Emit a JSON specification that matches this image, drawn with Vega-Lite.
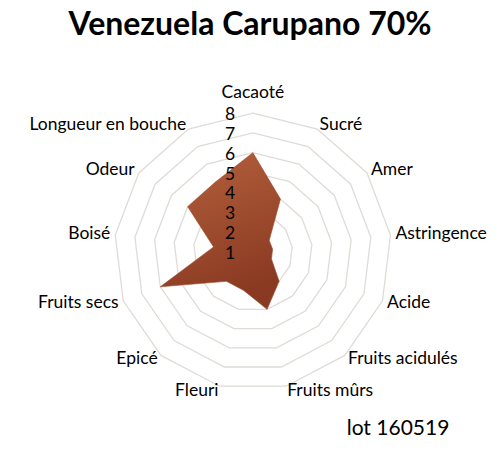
{
  "$schema": "https://vega.github.io/schema/vega-lite/v6.json",
  "width": 500,
  "height": 402,
  "autosize": "none",
  "padding": {"top": 50, "left": 0, "right": 0, "bottom": 0},
  "background": "white",
  "title": {
    "text": "Venezuela Carupano 70%",
    "font": "Lato",
    "fontSize": 32,
    "fontWeight": "bold",
    "color": "#000000",
    "anchor": "middle",
    "offset": 8
  },
  "config": {"view": {"stroke": null}, "text": {"font": "Lato", "fontSize": 17.5, "color": "#000000"}},
  "data": {
    "values": [
      {"critere": "Cacaoté", "note": 6},
      {"critere": "Sucré", "note": 4},
      {"critere": "Amer", "note": 2},
      {"critere": "Astringence", "note": 2},
      {"critere": "Acide", "note": 2},
      {"critere": "Fruits acidulés", "note": 3},
      {"critere": "Fruits mûrs", "note": 4},
      {"critere": "Fleuri", "note": 3},
      {"critere": "Epicé", "note": 3},
      {"critere": "Fruits secs", "note": 6},
      {"critere": "Boisé", "note": 3},
      {"critere": "Odeur", "note": 5},
      {"critere": "Longueur en bouche", "note": 5}
    ]
  },
  "transform": [
    {"window": [{"op": "row_number", "as": "rang"}]},
    {"calculate": "(datum.rang - 1) * 2 * PI / 13", "as": "angle"}
  ],
  "resolve": {"scale": {"x": "shared", "y": "shared"}},
  "layer": [
    {
      "transform": [
        {"calculate": "[2, 3, 4, 5, 6, 7, 8]", "as": "niveaux"},
        {"flatten": ["niveaux"], "as": ["niveau"]},
        {"calculate": "(datum.niveau - 1) * sin(datum.angle)", "as": "gx"},
        {"calculate": "(datum.niveau - 1) * cos(datum.angle)", "as": "gy"}
      ],
      "mark": {"type": "line", "interpolate": "linear-closed", "stroke": "#e0dbd6", "strokeWidth": 1.3},
      "encoding": {
        "x": {"field": "gx", "type": "quantitative", "scale": {"domain": [-12.77, 12.48], "nice": false, "zero": false}, "axis": null},
        "y": {"field": "gy", "type": "quantitative", "scale": {"domain": [-10.12, 10.19], "nice": false, "zero": false}, "axis": null},
        "detail": {"field": "niveau"},
        "order": {"field": "rang"}
      }
    },
    {
      "transform": [
        {"calculate": "(datum.note - 1) * sin(datum.angle)", "as": "px"},
        {"calculate": "(datum.note - 1) * cos(datum.angle)", "as": "py"}
      ],
      "mark": {
        "type": "line",
        "interpolate": "linear-closed",
        "filled": true,
        "fill": {
          "gradient": "linear", "x1": 0, "y1": 0, "x2": 0.3, "y2": 1,
          "stops": [{"offset": 0, "color": "#b5623d"}, {"offset": 1, "color": "#8a3a22"}]
        },
        "stroke": "#9c4a2c",
        "strokeWidth": 0.6
      },
      "encoding": {
        "x": {"field": "px", "type": "quantitative"},
        "y": {"field": "py", "type": "quantitative"},
        "order": {"field": "rang"}
      }
    },
    {
      "transform": [
        {"filter": "datum.rang == 1"},
        {"calculate": "7.25 * sin(datum.angle)", "as": "lx"},
        {"calculate": "7.25 * cos(datum.angle)", "as": "ly"}
      ],
      "mark": {"type": "text", "align": "center", "baseline": "bottom", "dy": -6},
      "encoding": {
        "x": {"field": "lx", "type": "quantitative"},
        "y": {"field": "ly", "type": "quantitative"},
        "text": {"field": "critere"}
      }
    },
    {
      "transform": [
        {"filter": "datum.rang > 1 && datum.rang <= 7"},
        {"calculate": "7.25 * sin(datum.angle)", "as": "lx"},
        {"calculate": "7.25 * cos(datum.angle)", "as": "ly"}
      ],
      "mark": {"type": "text", "align": "left", "baseline": "middle"},
      "encoding": {
        "x": {"field": "lx", "type": "quantitative"},
        "y": {"field": "ly", "type": "quantitative"},
        "text": {"field": "critere"}
      }
    },
    {
      "transform": [
        {"filter": "datum.rang > 7"},
        {"calculate": "7.25 * sin(datum.angle)", "as": "lx"},
        {"calculate": "7.25 * cos(datum.angle)", "as": "ly"}
      ],
      "mark": {"type": "text", "align": "right", "baseline": "middle"},
      "encoding": {
        "x": {"field": "lx", "type": "quantitative"},
        "y": {"field": "ly", "type": "quantitative"},
        "text": {"field": "critere"}
      }
    },
    {
      "data": {"values": [
        {"graduation": 1}, {"graduation": 2}, {"graduation": 3}, {"graduation": 4},
        {"graduation": 5}, {"graduation": 6}, {"graduation": 7}, {"graduation": 8}
      ]},
      "transform": [{"calculate": "datum.graduation - 1", "as": "ty"}],
      "mark": {"type": "text", "align": "right", "baseline": "middle", "dy": 2},
      "encoding": {
        "x": {"datum": -0.9},
        "y": {"field": "ty", "type": "quantitative"},
        "text": {"field": "graduation"}
      }
    },
    {
      "data": {"values": [{"etiquette": "lot 160519"}]},
      "mark": {"type": "text", "align": "center", "baseline": "middle", "fontSize": 21},
      "encoding": {
        "x": {"datum": 7.33},
        "y": {"datum": -8.95},
        "text": {"field": "etiquette"}
      }
    }
  ]
}
